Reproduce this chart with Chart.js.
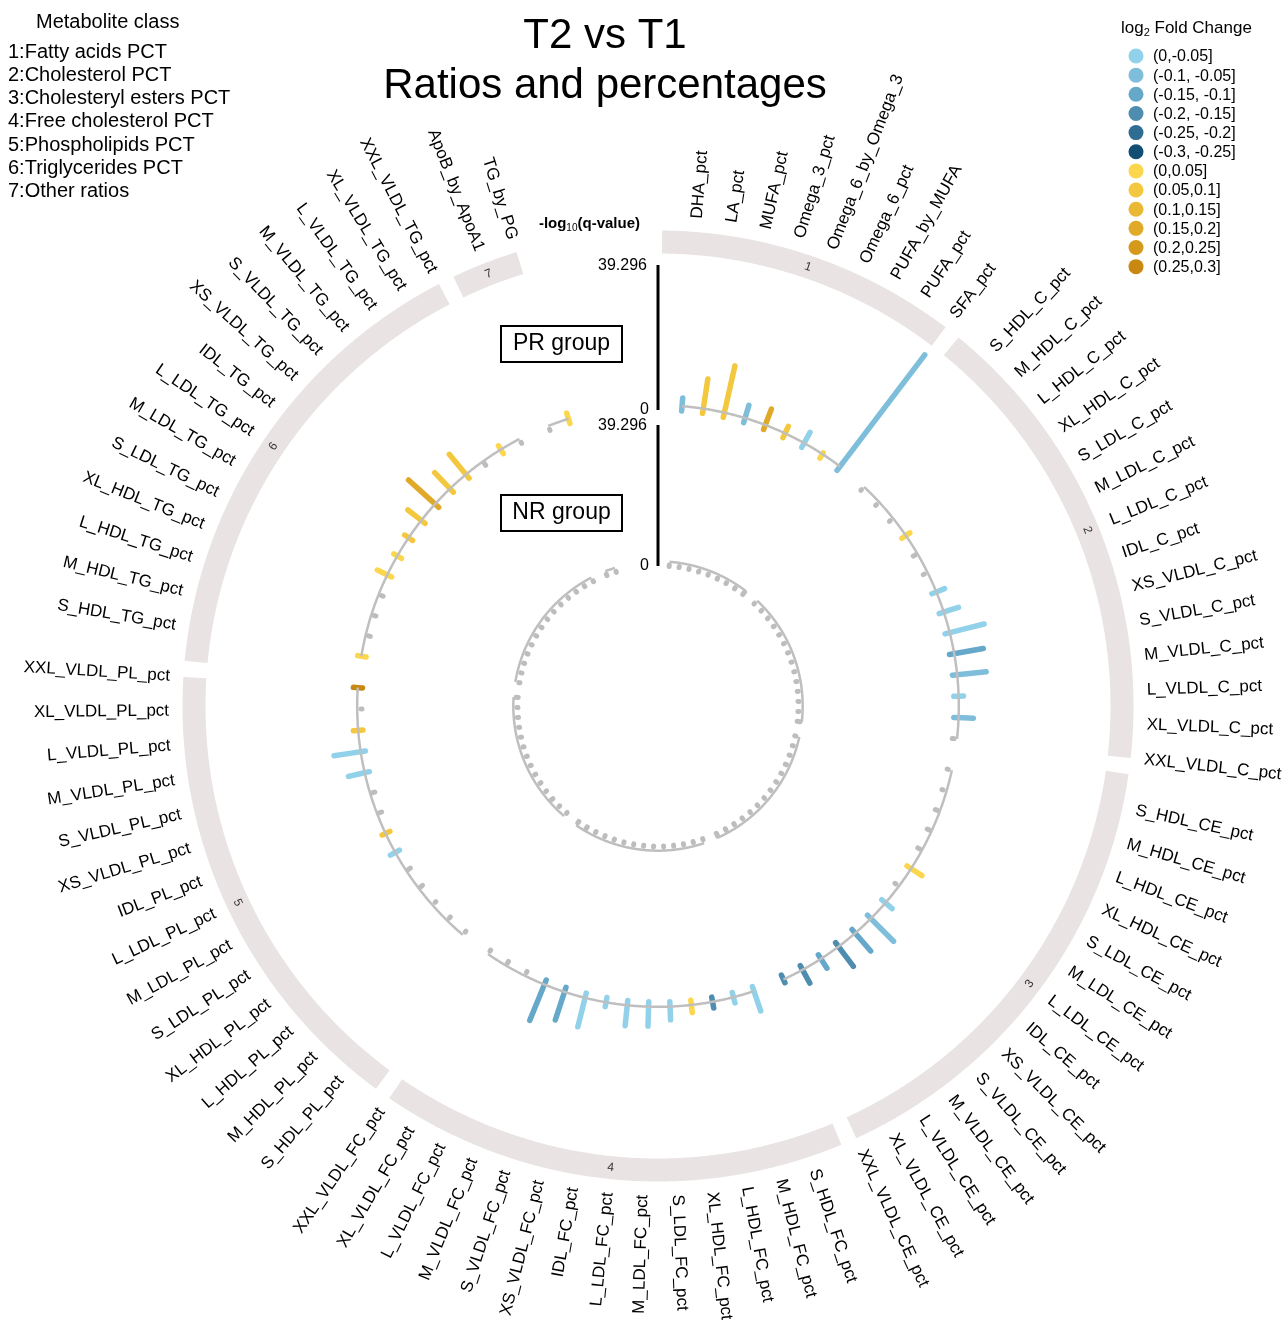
<!DOCTYPE html>
<html>
<head>
<meta charset="utf-8">
<title>T2 vs T1 - Ratios and percentages</title>
<script src="https://cdn.jsdelivr.net/npm/chart.js@4.4.1/dist/chart.umd.min.js"></script>
<style>
  html, body { margin: 0; padding: 0; background: #fff; }
  #wrap { width: 1285px; height: 1322px; }
</style>
</head>
<body>
<div id="wrap"><canvas id="chart" width="1285" height="1322"></canvas></div>
<script>
// metabolite classes, in drawing order (clockwise from the top)
const classNames = [
  "Fatty acids PCT", "Cholesterol PCT", "Cholesteryl esters PCT",
  "Free cholesterol PCT", "Phospholipids PCT", "Triglycerides PCT", "Other ratios"
];
const classSizes = [9, 14, 14, 14, 14, 14, 2];

const metabolites = [
  "DHA_pct", "LA_pct", "MUFA_pct", "Omega_3_pct", "Omega_6_by_Omega_3", "Omega_6_pct", "PUFA_by_MUFA", "PUFA_pct", "SFA_pct",
  "S_HDL_C_pct", "M_HDL_C_pct", "L_HDL_C_pct", "XL_HDL_C_pct", "S_LDL_C_pct", "M_LDL_C_pct", "L_LDL_C_pct", "IDL_C_pct", "XS_VLDL_C_pct", "S_VLDL_C_pct", "M_VLDL_C_pct", "L_VLDL_C_pct", "XL_VLDL_C_pct", "XXL_VLDL_C_pct",
  "S_HDL_CE_pct", "M_HDL_CE_pct", "L_HDL_CE_pct", "XL_HDL_CE_pct", "S_LDL_CE_pct", "M_LDL_CE_pct", "L_LDL_CE_pct", "IDL_CE_pct", "XS_VLDL_CE_pct", "S_VLDL_CE_pct", "M_VLDL_CE_pct", "L_VLDL_CE_pct", "XL_VLDL_CE_pct", "XXL_VLDL_CE_pct",
  "S_HDL_FC_pct", "M_HDL_FC_pct", "L_HDL_FC_pct", "XL_HDL_FC_pct", "S_LDL_FC_pct", "M_LDL_FC_pct", "L_LDL_FC_pct", "IDL_FC_pct", "XS_VLDL_FC_pct", "S_VLDL_FC_pct", "M_VLDL_FC_pct", "L_VLDL_FC_pct", "XL_VLDL_FC_pct", "XXL_VLDL_FC_pct",
  "S_HDL_PL_pct", "M_HDL_PL_pct", "L_HDL_PL_pct", "XL_HDL_PL_pct", "S_LDL_PL_pct", "M_LDL_PL_pct", "L_LDL_PL_pct", "IDL_PL_pct", "XS_VLDL_PL_pct", "S_VLDL_PL_pct", "M_VLDL_PL_pct", "L_VLDL_PL_pct", "XL_VLDL_PL_pct", "XXL_VLDL_PL_pct",
  "S_HDL_TG_pct", "M_HDL_TG_pct", "L_HDL_TG_pct", "XL_HDL_TG_pct", "S_LDL_TG_pct", "M_LDL_TG_pct", "L_LDL_TG_pct", "IDL_TG_pct", "XS_VLDL_TG_pct", "S_VLDL_TG_pct", "M_VLDL_TG_pct", "L_VLDL_TG_pct", "XL_VLDL_TG_pct", "XXL_VLDL_TG_pct",
  "ApoB_by_ApoA1", "TG_by_PG"
];

// -log10(q-value), PR group
const prLogQ = [
  3.5, 9.4, 14.3, 4.9, 5.9, 3.4, 4.6, 1.7, 39.296,
  0.3, 0.3, 0.3, 2.6, 0.8, 0.3, 3.7, 5.5, 10.9, 9.3, 9.2, 2.6, 5.3, 0.5,
  0.3, 0.3, 0.6, 0.8, 0.6, 4.8, 0.3, 3.7, 10.0, 7.7, 8.0, 4.3, 5.4, 2.3,
  7.0, 2.9, 3.0, 3.4, 4.9, 6.6, 6.9, 2.5, 9.4, 9.3, 11.8, 0.3, 0.5, 0.3,
  0.3, 0.4, 0.3, 0.7, 0.6, 2.8, 2.3, 0.8, 0.8, 5.8, 8.6, 2.6, 0.3, 2.5,
  2.3, 0.5, 0.5, 0.5, 4.3, 2.4, 2.6, 5.9, 11.0, 7.3, 8.4, 0.8, 2.5, 0.3,
  0.3, 2.9
];

// log2 fold change, PR group (null where not significant)
const prLog2FC = [
  -0.07, 0.07, 0.08, -0.08, 0.17, 0.06, -0.03, 0.03, -0.09,
  null, null, null, 0.03, null, null, -0.04, -0.04, -0.04, -0.11, -0.09, -0.03, -0.08, null,
  null, null, null, null, null, 0.04, null, -0.04, -0.08, -0.11, -0.17, -0.11, -0.16, -0.18,
  -0.04, -0.04, -0.16, 0.03, -0.04, -0.03, -0.04, -0.04, -0.04, -0.11, -0.13, null, null, null,
  null, null, null, null, null, -0.03, 0.06, null, null, -0.04, -0.04, 0.07, null, 0.27,
  0.04, null, null, null, 0.04, 0.04, 0.06, 0.07, 0.17, 0.08, 0.09, null, 0.05, null,
  null, 0.04
];

// -log10(q-value), NR group
const nrLogQ = [
  0.4, 0.3, 0.3, 0.3, 0.3, 0.3, 0.3, 0.4, 0.9,
  0.3, 0.3, 0.3, 0.3, 0.3, 0.3, 0.3, 0.3, 0.3, 0.3, 0.3, 0.3, 0.3, 0.8,
  0.3, 0.3, 0.3, 0.3, 0.3, 0.3, 0.3, 0.3, 0.3, 0.3, 0.3, 0.3, 0.5, 0.9,
  0.3, 0.3, 0.3, 0.3, 0.3, 0.3, 0.3, 0.3, 0.3, 0.3, 0.3, 0.3, 0.8, 0.5,
  0.3, 0.3, 0.7, 0.3, 0.3, 0.3, 0.3, 0.3, 0.3, 0.3, 0.3, 0.3, 0.3, 0.6,
  0.3, 0.3, 0.3, 0.3, 0.3, 0.3, 0.3, 0.3, 0.3, 0.3, 0.3, 0.3, 0.3, 0.3,
  0.4, 0.3
];

const fcBins = [
  "(0,-0.05]", "(-0.1, -0.05]", "(-0.15, -0.1]", "(-0.2, -0.15]", "(-0.25, -0.2]", "(-0.3, -0.25]",
  "(0,0.05]", "(0.05,0.1]", "(0.1,0.15]", "(0.15,0.2]", "(0.2,0.25]", "(0.25,0.3]"
];
const fcColors = [
  "#92d1ea", "#7ebedb", "#66a8c9", "#4e8cb0", "#306d93", "#114e73",
  "#fcd64c", "#f4c83e", "#eab934", "#e0a928", "#d5991c", "#c98811"
];

const axisMax = 39.296;
const qCut = -Math.log10(0.05);

// ---- geometry ----
const W = 1285, H = 1322;
const CX = 658, CY = 706;
const STEP = 4.08, GAP = 1.95, START = 0.5;     // degrees, clockwise from 12 o'clock
const tracks = {
  PR: { r0: 296, r1: 441 },
  NR: { r0: 140, r1: 281 }
};
const BAND_R = 464, BAND_W = 23, LABEL_R = 489;
const FONT = "'Liberation Sans', Arial, sans-serif";

function polar(deg, r) {
  const a = deg * Math.PI / 180;
  return { x: CX + r * Math.sin(a), y: CY - r * Math.cos(a) };
}
function radius(track, v) {
  return track.r0 + (v / axisMax) * (track.r1 - track.r0);
}
function arcPoints(a0, a1, r) {
  const pts = [];
  const n = Math.max(2, Math.ceil((a1 - a0) / 0.5));
  for (let i = 0; i <= n; i++) pts.push(polar(a0 + (a1 - a0) * i / n, r));
  return pts;
}
function fcColor(fc) {
  if (fc < 0) return fcColors[Math.min(5, Math.floor(-fc / 0.05 - 1e-9))];
  return fcColors[6 + Math.min(5, Math.floor(fc / 0.05 - 1e-9))];
}

// item angles and sector spans
const angles = [];
const sectors = [];
let cursor = START, idx = 0;
classSizes.forEach((n) => {
  const s0 = cursor;
  for (let i = 1; i <= n; i++) angles.push(s0 + i * STEP);
  sectors.push({ start: s0, end: s0 + n * STEP, first: idx, last: idx + n - 1 });
  idx += n;
  cursor = s0 + n * STEP + GAP;
});

const datasets = [];

// class band
sectors.forEach((s) => {
  datasets.push({
    data: arcPoints(s.start, s.end, BAND_R),
    borderColor: "#e9e3e3", borderWidth: BAND_W, borderCapStyle: "butt",
    borderJoinStyle: "round",
    showLine: true, pointRadius: 0, order: 3
  });
});

// significance threshold arcs
Object.values(tracks).forEach((t) => {
  sectors.forEach((s) => {
    datasets.push({
      data: arcPoints(angles[s.first], angles[s.last], radius(t, qCut)),
      borderColor: "#bfbfbf", borderWidth: 2.5, borderJoinStyle: "round",
      showLine: true, pointRadius: 0, order: 0
    });
  });
});

// bars
function addBars(track, values, fcs) {
  values.forEach((v, i) => {
    const sig = v > qCut && fcs && fcs[i] != null;
    datasets.push({
      data: [polar(angles[i], radius(track, 0)), polar(angles[i], radius(track, v))],
      borderColor: sig ? fcColor(fcs[i]) : "#bdbdbd",
      borderWidth: sig ? 5.5 : 5, borderCapStyle: "round",
      showLine: true, pointRadius: 0, order: 1
    });
  });
}
addBars(tracks.PR, prLogQ, prLog2FC);
addBars(tracks.NR, nrLogQ, null);

// y axis of each track
Object.values(tracks).forEach((t) => {
  datasets.push({
    data: [polar(0, radius(t, 0)), polar(0, radius(t, axisMax))],
    borderColor: "#000", borderWidth: 3, borderCapStyle: "butt",
    showLine: true, pointRadius: 0, order: 0
  });
});

const textPlugin = {
  id: "circosText",
  afterDraw(chart) {
    const ctx = chart.ctx;
    const X = (v) => chart.scales.x.getPixelForValue(v);
    const Y = (v) => chart.scales.y.getPixelForValue(v);
    ctx.save();
    ctx.fillStyle = "#000";

    // metabolite labels, radial
    ctx.font = "17px " + FONT;
    ctx.textBaseline = "middle";
    metabolites.forEach((name, i) => {
      const a = angles[i];
      const p = polar(a, LABEL_R);
      ctx.save();
      ctx.translate(X(p.x), Y(p.y));
      if (a < 180) {
        ctx.rotate((a - 90) * Math.PI / 180);
        ctx.textAlign = "left";
      } else {
        ctx.rotate((a + 90) * Math.PI / 180);
        ctx.textAlign = "right";
      }
      ctx.fillText(name, 0, 0);
      ctx.restore();
    });

    // class numbers inside the band
    ctx.font = "12px " + FONT;
    ctx.fillStyle = "#333";
    ctx.textAlign = "center";
    sectors.forEach((s, k) => {
      const a = (s.start + s.end) / 2;
      const p = polar(a, BAND_R);
      const rot = (a > 90 && a < 270) ? a - 180 : a;
      ctx.save();
      ctx.translate(X(p.x), Y(p.y));
      ctx.rotate(rot * Math.PI / 180);
      ctx.fillText(String(k + 1), 0, 0);
      ctx.restore();
    });

    // axis tick labels
    ctx.fillStyle = "#000";
    ctx.font = "16px " + FONT;
    ctx.textAlign = "right";
    Object.values(tracks).forEach((t) => {
      const top = polar(0, radius(t, axisMax));
      const bot = polar(0, radius(t, 0));
      ctx.fillText("39.296", X(top.x) - 11, Y(top.y) + 1);
      ctx.fillText("0", X(bot.x) - 9, Y(bot.y));
    });

    // axis title: -log10(q-value)
    ctx.textAlign = "left";
    ctx.textBaseline = "alphabetic";
    const t1 = "-log", t2 = "10", t3 = "(q-value)";
    ctx.font = "bold 15px " + FONT;
    const w1 = ctx.measureText(t1).width, w3 = ctx.measureText(t3).width;
    ctx.font = "10px " + FONT;
    const w2 = ctx.measureText(t2).width;
    const tx = 640 - (w1 + w2 + w3), ty = 228;
    ctx.font = "bold 15px " + FONT;
    ctx.fillText(t1, tx, ty);
    ctx.font = "10px " + FONT;
    ctx.fillText(t2, tx + w1, ty + 3);
    ctx.font = "bold 15px " + FONT;
    ctx.fillText(t3, tx + w1 + w2, ty);

    // group boxes
    ctx.font = "23px " + FONT;
    ctx.textAlign = "center";
    ctx.textBaseline = "middle";
    ctx.lineWidth = 2;
    ctx.strokeStyle = "#000";
    [["PR group", 326], ["NR group", 495]].forEach(([txt, top]) => {
      ctx.strokeRect(501, top, 121, 36);
      ctx.fillText(txt, 561.5, top + 18);
    });

    // title
    ctx.font = "42px " + FONT;
    ctx.fillText("T2 vs T1", 605, 36);
    ctx.fillText("Ratios and percentages", 605, 86);

    // class legend
    ctx.font = "20px " + FONT;
    ctx.textAlign = "left";
    ctx.fillText("Metabolite class", 36, 22);
    classNames.forEach((c, k) => {
      ctx.fillText((k + 1) + ":" + c, 8, 52 + k * 23.3);
    });

    // fold change legend
    ctx.font = "17px " + FONT;
    ctx.fillText("log", 1121, 28);
    const lw = ctx.measureText("log").width;
    ctx.font = "11px " + FONT;
    ctx.fillText("2", 1121 + lw, 33);
    const sw = ctx.measureText("2").width;
    ctx.font = "17px " + FONT;
    ctx.fillText(" Fold Change", 1121 + lw + sw, 28);
    ctx.font = "16px " + FONT;
    fcBins.forEach((b, k) => {
      const y = 56 + k * 19.15;
      ctx.beginPath();
      ctx.arc(1136, y, 7.5, 0, Math.PI * 2);
      ctx.fillStyle = fcColors[k];
      ctx.fill();
      ctx.fillStyle = "#000";
      ctx.fillText(b, 1153, y + 1);
    });

    ctx.restore();
  }
};

new Chart(document.getElementById("chart"), {
  type: "scatter",
  data: { datasets },
  options: {
    responsive: false,
    animation: false,
    events: [],
    layout: { padding: 0 },
    // a tiny tension keeps Chart.js off its x-sorted fast path, so arcs stay smooth
    elements: { line: { tension: 0.0001 }, point: { radius: 0 } },
    scales: {
      x: { type: "linear", min: 0, max: W, display: false },
      y: { type: "linear", min: 0, max: H, reverse: true, display: false }
    },
    plugins: { legend: { display: false }, tooltip: { enabled: false } }
  },
  plugins: [textPlugin]
});
</script>
</body>
</html>
